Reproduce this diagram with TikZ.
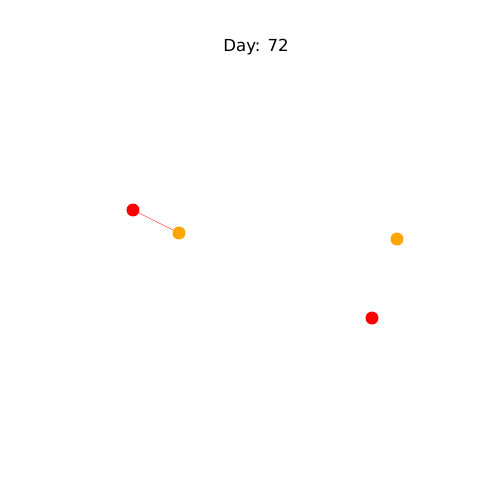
\documentclass[tikz,border=0pt]{standalone}
\usepackage{fontspec}
\setmainfont{DejaVu Sans}
\usepackage{xcolor}
\definecolor{InfRed}{RGB}{255,0,0}
\definecolor{ExpOrange}{RGB}{255,165,0}
\tikzset{
  infected/.style={circle,fill=InfRed,inner sep=0pt,minimum size=0.33cm},
  exposed/.style={circle,fill=ExpOrange,inner sep=0pt,minimum size=0.33cm},
  contact/.style={draw=InfRed!70,line width=0.4pt},
}
\begin{document}
\begin{tikzpicture}[x=0.0254cm,y=-0.0254cm]
\useasboundingbox (0,0) rectangle (500,500);
\node[font=\fontsize{12}{14}\selectfont] (title) at (256,47.5) {Day: 72};
\node[infected] (a) at (133,210) {};
\node[exposed] (b) at (179,233) {};
\node[exposed] (c) at (397,239) {};
\node[infected] (d) at (372,318) {};
\draw[contact] (a) -- (b);
\end{tikzpicture}
\end{document}
